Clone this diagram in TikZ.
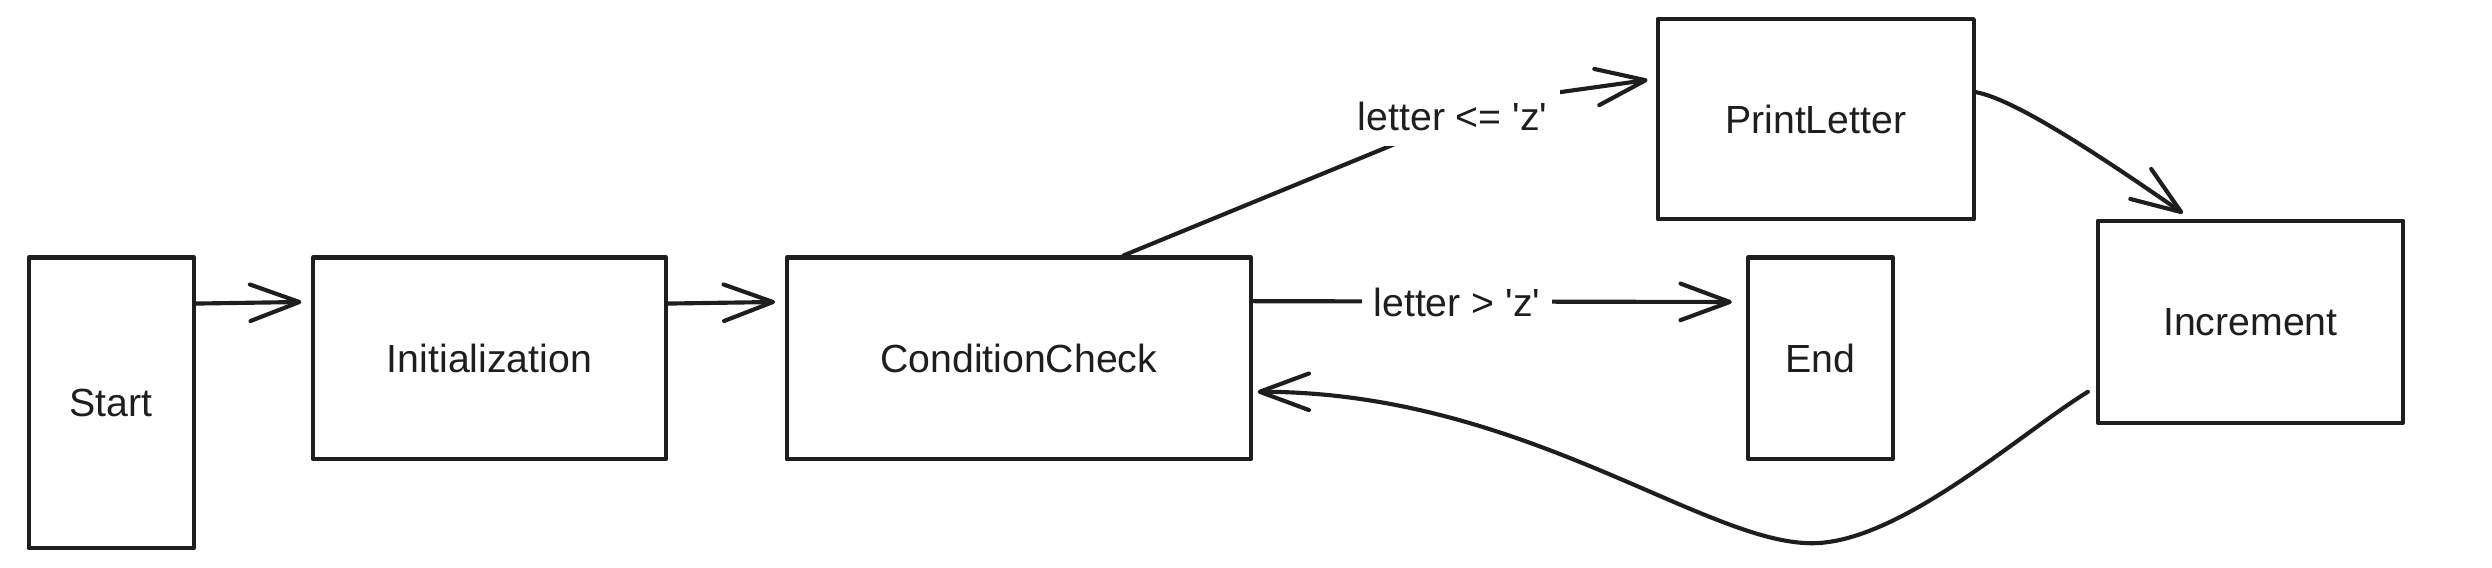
\documentclass[tikz,border=0pt]{standalone}
\usepackage{fontspec}
\setmainfont{Liberation Sans}
\usetikzlibrary{arrows.meta,calc}
\definecolor{ink}{HTML}{1E1E1E}
\begin{document}
\begin{tikzpicture}[x=1pt,y=-1pt,
  box/.style={draw=ink, line width=2.6pt, rectangle, inner sep=0pt, text=ink,
    font=\fontsize{24.7}{29}\selectfont, line join=round},
  arr/.style={draw=ink, line width=2.6pt, line cap=round, line join=round,
    -{Straight Barb[length=31pt,width=23pt,line cap=round,line join=round]}},
  lbl/.style={fill=white, text=ink, font=\fontsize{24.7}{29}\selectfont,
    inner xsep=8pt, inner ysep=10pt, anchor=base}
]
\useasboundingbox (0,0) rectangle (1568,357);

% boxes
\node[box, minimum width=104pt, minimum height=183pt] (st)  at (70,253.5)   {Start};
\node[box, minimum width=222pt, minimum height=127pt] (ini) at (308,225.5)  {Initialization};
\node[box, minimum width=292pt, minimum height=127pt] (cc)  at (641,225.5)  {ConditionCheck};
\node[box, minimum width=199pt, minimum height=126pt] (pl)  at (1142.5,75)  {PrintLetter};
\node[box, minimum width=91pt,  minimum height=127pt] (en)  at (1145.5,225.5) {End};
\node[box, minimum width=192pt, minimum height=127pt] (inc) at (1416,202.5) {Increment};

% straight arrows
\draw[arr] ([shift={(0,-62.5)}]st.east) -- ([shift={(-6,-35.5)}]ini.west);
\draw[arr] ([shift={(0,-34.5)}]ini.east) -- ([shift={(-6,-35.5)}]cc.west);

% ConditionCheck -> PrintLetter
\draw[arr] ([shift={(66,0)}]cc.north) -- (868.5,94.4)
   .. controls (910,77) and (950,62) .. (983.6,57.7)
   -- ([shift={(-5,-24.7)}]pl.west);
\node[lbl] (l1) at (914,81.8) {letter <= \textquotesingle z\textquotesingle};

% ConditionCheck -> End
\draw[arr] ([shift={(0,-36)}]cc.east) -- ([shift={(-9,-35.5)}]en.west);
\node[lbl, inner xsep=7.5pt] (l2) at (916.7,199.3) {letter > \textquotesingle z\textquotesingle};

% PrintLetter -> Increment
\draw[arr] ([shift={(0,-17)}]pl.east) .. controls (1265,62) and (1310,90) .. ([shift={(-42.5,-3.5)}]inc.north);

% Increment -> ConditionCheck (loop back)
\coordinate (r0) at ([shift={(-5,44)}]inc.west);
\coordinate (r1) at ([shift={(3,21)}]cc.east);
\coordinate (rb) at (1140,341.8);
\draw[arr] (r0) .. controls (1270,273.5) and (1195,341.8) .. (rb)
   .. controls (1071.5,341.8) and (957.2,246.5) .. (r1);
\end{tikzpicture}
\end{document}
